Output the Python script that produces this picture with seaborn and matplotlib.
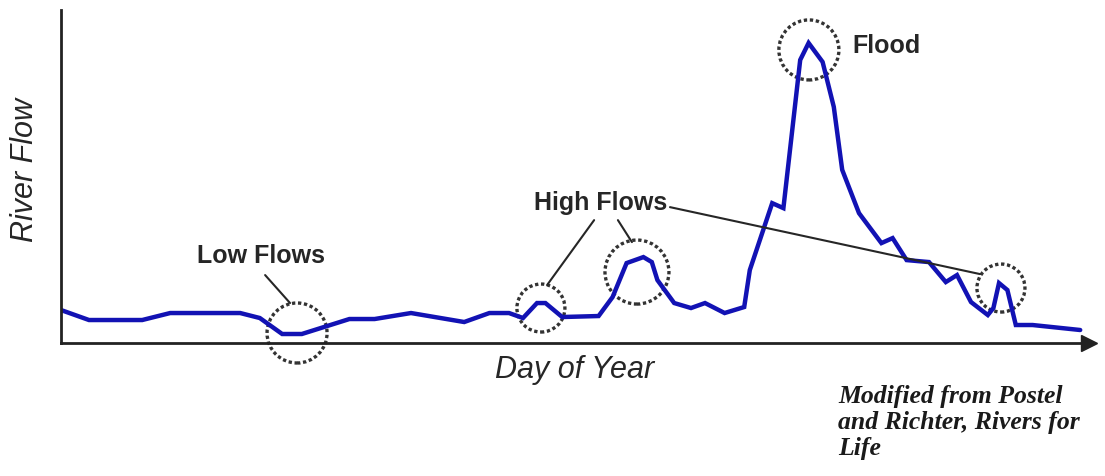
import matplotlib
matplotlib.use("Agg")
import matplotlib.pyplot as plt
from matplotlib.patches import Ellipse
import pandas as pd
import seaborn as sns

# hydrograph: day of year vs relative river flow (0-100)
days = [0, 10, 29, 39, 64, 71, 79, 86, 103, 112, 125, 144, 153, 160, 165, 170,
        173, 179, 192, 197, 202, 208, 211, 213, 219, 225, 230, 237, 244, 246,
        254, 258, 264, 267, 272, 276, 279, 285, 293, 297, 302, 310, 316, 320,
        325, 331, 333, 335, 338, 341, 347, 364]
flow = [9.9, 6.9, 6.9, 9.0, 9.0, 7.5, 2.7, 2.7, 7.2, 7.2, 9.0, 6.3, 9.0, 9.0,
        7.5, 12.0, 12.0, 7.8, 8.1, 13.8, 24.0, 25.8, 24.3, 18.9, 12.0, 10.5,
        12.0, 9.0, 10.8, 21.9, 42.0, 40.5, 85.0, 90.1, 84.4, 70.9, 52.0, 39.0,
        30.0, 31.5, 24.9, 24.3, 18.3, 20.4, 12.3, 8.4, 10.5, 18.0, 15.9, 5.4,
        5.4, 3.9]

df = pd.DataFrame({"day": days, "flow": flow})

sns.set_style("white")

W, H = 1105, 476
x_max, y_max = 367, 100
px_day = 1022 / 365          # pixels per day
px_flow = 3.33               # pixels per flow unit
ax_w = x_max * px_day
ax_h = y_max * px_flow

fig = plt.figure(figsize=(W / 100, H / 100), dpi=100)
ax = fig.add_axes([61 / W, (H - 343) / H, ax_w / W, ax_h / H])

sns.lineplot(data=df, x="day", y="flow", color="#1212b4", linewidth=3.2,
             ax=ax, solid_joinstyle="miter")

ax.set_xlim(0, x_max)
ax.set_ylim(0, y_max)
ax.set_xticks([])
ax.set_yticks([])
ax.set_xlabel("")
ax.set_ylabel("")
for s in ["top", "right"]:
    ax.spines[s].set_visible(False)
for s in ["left", "bottom"]:
    ax.spines[s].set_color("#222222")
    ax.spines[s].set_linewidth(2)
ax.plot(1, 0, marker=">", color="#222222", markersize=11,
        transform=ax.transAxes, clip_on=False)

ink = "#262626"


def ring(cx, cy, r_px):
    ax.add_patch(Ellipse((cx, cy), 2 * r_px / px_day, 2 * r_px / px_flow,
                         fill=False, edgecolor="#333333", linewidth=2.4,
                         linestyle=(0, (1.0, 0.8)), clip_on=False))


def leader(x0, y0, x1, y1):
    ax.plot([x0, x1], [y0, y1], color=ink, linewidth=1.5, clip_on=False)


# low flows
ring(84.3, 3.0, 30)
leader(72.9, 20.4, 81.8, 12.0)
ax.text(71.4, 26.1, "Low Flows", fontsize=18, fontweight="bold", color=ink,
        ha="center", va="center", family="Liberation Sans")

# high flows
ring(171.4, 10.5, 24)
ring(205.7, 21.3, 32)
ring(335.7, 16.5, 24)
leader(190.4, 36.9, 173.6, 17.4)
leader(198.9, 36.9, 203.9, 30.3)
leader(217.5, 40.8, 328.2, 20.7)
ax.text(192.9, 42.0, "High Flows", fontsize=18, fontweight="bold", color=ink,
        ha="center", va="center", family="Liberation Sans")

# flood
ring(267.1, 88.0, 30)
ax.text(282.5, 89.2, "Flood", fontsize=18, fontweight="bold", color=ink,
        ha="left", va="center", family="Liberation Sans")

fig.text(25 / W, 1 - 170 / H, "River Flow", rotation=90, fontsize=22,
         fontstyle="italic", color=ink, ha="center", va="center",
         family="Liberation Sans")
fig.text(575 / W, 1 - 370 / H, "Day of Year", fontsize=22,
         fontstyle="italic", color=ink, ha="center", va="center",
         family="Liberation Sans")
fig.text(838 / W, 1 - 385 / H,
         "Modified from Postel\nand Richter, Rivers for\nLife",
         fontsize=18.5, fontstyle="italic", fontweight="bold",
         color="#1a1a1a", ha="left", va="top", linespacing=1.17,
         family="Liberation Serif")

fig.savefig("out.png", dpi=100)
